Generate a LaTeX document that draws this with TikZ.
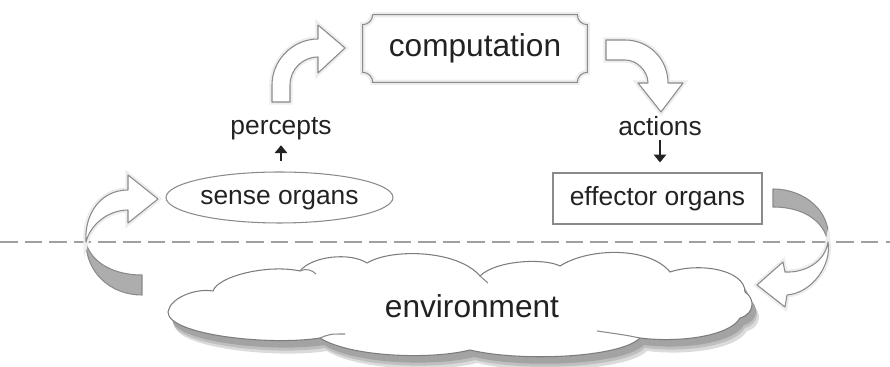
\documentclass[tikz,border=0pt]{standalone}
\usepackage{fontspec}
\setmainfont{Liberation Sans}
\usetikzlibrary{arrows.meta,shapes.geometric}

\definecolor{inkgray}{HTML}{222222}
\definecolor{edgegray}{HTML}{8A8A8A}
\definecolor{ribbongray}{HTML}{ADADAD}
\definecolor{dashgray}{HTML}{A0A0A0}

\tikzset{
  lbl/.style={font=\fontsize{15}{18}\selectfont, text=inkgray, inner sep=0pt},
  bigtext/.style={font=\fontsize{18}{21}\selectfont, text=inkgray, inner sep=0pt},
  organbox/.style={lbl, draw=edgegray, line width=0.6pt, minimum height=1.02cm},
  fatarrow/.style={fill=white, draw=edgegray, line width=0.6pt, line join=round,
    preaction={draw=black!7, line width=3pt}},
  backside/.style={fill=ribbongray, draw=edgegray, line width=0.6pt, line join=round},
  tinyarrow/.style={-{Triangle[length=4.5pt,width=7pt]}, line width=1.6pt, draw=inkgray},
  divider/.style={draw=dashgray, line width=0.7pt, dash pattern=on 10pt off 4pt},
}

% outline of the environment cloud (pixel units, y down)
\newcommand\envcloud{(168,312)
  .. controls (170,298) and (195,288) .. (213,291)
  .. controls (218,276) and (268,264) .. (300,271)
  .. controls (312,256) and (350,252) .. (367,263)
  .. controls (392,248) and (458,250) .. (480,276)
  .. controls (496,260) and (545,258) .. (560,266)
  .. controls (590,247) and (650,247) .. (670,272)
  .. controls (700,262) and (745,270) .. (745,292)
  .. controls (755,298) and (755,314) .. (740,318)
  .. controls (730,336) and (680,343) .. (640,338)
  .. controls (620,358) and (520,362) .. (470,350)
  .. controls (430,360) and (350,357) .. (320,338)
  .. controls (270,346) and (168,335) .. (168,312) -- cycle}

\begin{document}
\begin{tikzpicture}[x=0.02cm, y=-0.02cm]
  \useasboundingbox (0,0) rectangle (890,367);

  % boundary between agent and world
  \draw[divider] (0,242) -- (890,242);

  % environment
  \fill[black!14, shift={(7,13)}] \envcloud;
  \fill[black!25, shift={(5,10)}] \envcloud;
  \fill[black!36, shift={(4,7)}] \envcloud;
  \filldraw[fill=white, draw=edgegray!90!black, line width=0.6pt] \envcloud;
  \draw[edgegray, line width=0.6pt] (300,271) .. controls (306,268) and (312,270) .. (316,274);
  \draw[edgegray, line width=0.6pt] (480,276) .. controls (484,279) .. (488,283);
  \draw[edgegray, line width=0.6pt] (640,338) .. controls (625,335) .. (597,331);
  \draw[edgegray, line width=0.6pt] (320,338) .. controls (330,334) .. (345,334);
  \node[bigtext] (env) at (472,306) {environment};

  % agent parts
  \node[bigtext, minimum width=4.48cm, minimum height=1.34cm] (comp) at (475,48.5) {computation};
  \draw[edgegray, line width=0.6pt, preaction={draw=black!7, line width=3pt}]
    ([xshift=5.7pt]comp.north west) -- ([xshift=-5.7pt]comp.north east)
    arc[start angle=180, end angle=270, radius=5.7pt]
    -- ([yshift=5.7pt]comp.south east)
    arc[start angle=90, end angle=180, radius=5.7pt]
    -- ([xshift=5.7pt]comp.south west)
    arc[start angle=0, end angle=90, radius=5.7pt]
    -- ([yshift=-5.7pt]comp.north west)
    arc[start angle=270, end angle=360, radius=5.7pt];

  \node[organbox, ellipse, minimum width=4.54cm, text depth=0pt] (sense) at (279.5,197.5) {sense organs};
  \node[organbox, rectangle, minimum width=4.18cm] (effector) at (657.5,198.5) {effector organs};

  \node[lbl, anchor=base] (percepts) at (281,135) {percepts};
  \node[lbl, anchor=base] (actions) at (660,136) {actions};

  \draw[tinyarrow] ([yshift=6.2pt]percepts.south |- sense.north) -- ([yshift=-2.5pt]percepts.south);
  \draw[tinyarrow] ([yshift=-1.9pt]actions.south) -- ([yshift=5.7pt]actions.south |- effector.north);

  % percepts -> computation
  \draw[fatarrow] (272,102) -- (272,85) .. controls (272,60) and (293,39) .. (318,39)
    -- (318,25) -- (345,48) -- (318,73) -- (318,57)
    .. controls (302.5,57) and (290,69.5) .. (290,85) -- (290,102) -- cycle;

  % computation -> actions
  \draw[fatarrow] (606,40) -- (625,40) .. controls (649,40) and (668,59) .. (668,83)
    -- (683,83) -- (661,112) -- (638,83) -- (648,83)
    .. controls (648,71) and (637,60) .. (625,60) -- (606,60) -- cycle;

  % environment -> sense organs
  \draw[backside] (142,275) -- (142,295) .. controls (110,295) and (86,272) .. (86,242)
    .. controls (89,258) and (108,275) .. (142,275) -- cycle;
  \draw[fatarrow] (86,242) .. controls (84,215) and (100,190) .. (128,190)
    -- (128,175) -- (158,199) -- (128,223) -- (128,210)
    .. controls (108,210) and (90,225) .. (86,242) -- cycle;

  % effector organs -> environment
  \draw[backside] (773,189) .. controls (805,189) and (832,212) .. (828,242)
    .. controls (824,222) and (805,207) .. (773,207) -- cycle;
  \draw[fatarrow] (828,242) .. controls (832,265) and (812,293) .. (787,295)
    -- (785,307) -- (757,285) -- (783,262) -- (785,272)
    .. controls (805,273) and (825,262) .. (828,242) -- cycle;
\end{tikzpicture}
\end{document}
